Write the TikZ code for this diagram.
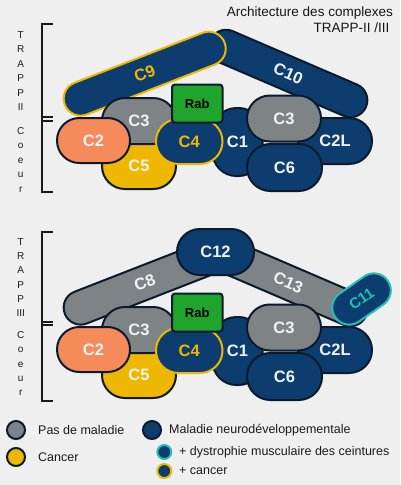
\documentclass[tikz,border=0pt]{standalone}
\usepackage{fontspec}
\setmainfont{Liberation Sans}
\definecolor{navy}{HTML}{0C3D6E}
\definecolor{outl}{HTML}{0B1A2C}
\definecolor{greyc}{HTML}{7E8386}
\definecolor{orangec}{HTML}{F58A5B}
\definecolor{yellowc}{HTML}{EFB800}
\definecolor{greenc}{HTML}{1FA52B}
\definecolor{tealc}{HTML}{22C0B5}
\definecolor{bgc}{HTML}{EFEFEF}
\definecolor{txt}{HTML}{1A1A1A}
\definecolor{wtxt}{HTML}{F2F2F2}
\tikzset{
  blob/.style={draw=outl, line width=2pt, inner sep=0pt, text=wtxt,
    font=\bfseries\fontsize{16.5}{18}\selectfont},
  stad/.style 2 args={minimum width=#1, minimum height=#2},
  bar/.style={blob, minimum width=171.4, minimum height=34, rounded corners=16.9},
  brk/.style={line width=2pt, draw=txt},
  vlet/.style={inner sep=0pt, align=center, text=txt, anchor=north},
  legtxt/.style={anchor=west, inner sep=0pt, text=txt, font=\fontsize{12.5}{14}\selectfont},
  legdot/.style={circle, draw=outl, line width=2pt, inner sep=0pt, minimum size=18},
  smalldot/.style={circle, fill=navy, line width=2pt, inner sep=0pt, minimum size=14},
  ttl/.style={anchor=base east, inner sep=0pt, text=txt!85!black, font=\fontsize{13.5}{15}\selectfont}
}
\newcommand\drawcore[1]{%
  \node[blob, fill=yellowc, minimum width=74, minimum height=46, rounded corners=22.9] (c5#1) at (139,166) {C5};
  \node[blob, fill=greyc, minimum width=74, minimum height=46, rounded corners=22.9] (c3a#1) at (139,121) {C3};
  \node[blob, fill=orangec, minimum width=73, minimum height=45, rounded corners=22.4] (c2#1) at (93.5,140.5) {C2};
  \node[blob, fill=navy, minimum width=50, minimum height=68, rounded corners=24] (c1#1) at (237.5,142) {C1};
  \node[blob, fill=navy, minimum width=74, minimum height=46, rounded corners=22.9] (c2l#1) at (335,141) {C2L};
  \node[blob, fill=greyc, minimum width=74, minimum height=46, rounded corners=22.9] (c3b#1) at (284,118.5) {C3};
  \node[blob, fill=navy, minimum width=75, minimum height=47, rounded corners=23.4] (c6#1) at (284.5,167.5) {C6};
  \node[blob, draw=yellowc, text=yellowc, fill=navy, minimum width=66.5, minimum height=45, rounded corners=22.4] (c4#1) at (189.25,141.5) {C4};
  \node[blob, fill=greenc, text=black, minimum width=50.5, minimum height=38, rounded corners=3,
        font=\bfseries\fontsize{13}{15}\selectfont] (rab#1) at (197.25,103.5) {Rab};
}
\begin{document}
\begin{tikzpicture}[x=1pt,y=-1pt]
\fill[bgc] (0,0) rectangle (400,485);
\useasboundingbox (0,0) rectangle (400,485);

% title
\node[ttl] (title1) at (393,16.3) {Architecture des complexes};
\node[ttl] (title2) at (389.5,32) {TRAPP-II /III};

% ---------- TRAPP II ----------
\node[vlet, font=\fontsize{10}{14.5}\selectfont] (lblII) at (20.7,31.4) {T\\R\\A\\P\\P\\II};
\node[vlet, font=\fontsize{10}{14.4}\selectfont] (lblcoeurA) at (20.7,127.4) {C\\o\\e\\u\\r};
\draw[brk] (52.7,24.3) -- (42.3,24.3) -- (42.3,191.7) -- (52.7,191.7);
\draw[brk] (40.5,117.3) -- (52.7,117.3);
\draw[brk] (40.5,120.7) -- (52.7,120.7);

\node[bar, fill=navy, minimum width=169.3, rotate=-23.25] (c10) at (288.2,73.5) {C10};
\node[bar, fill=navy, draw=yellowc, text=yellowc, rotate=21.3] (c9) at (144.7,73.65) {C9};
\drawcore{A}

% ---------- TRAPP III ----------
\node[vlet, font=\fontsize{10}{14.2}\selectfont] (lblIII) at (20.7,238.4) {T\\R\\A\\P\\P\\III};
\node[vlet, font=\fontsize{10}{14.3}\selectfont] (lblcoeurB) at (20.7,331.4) {C\\o\\e\\u\\r};
\draw[brk] (52.7,231.7) -- (42.3,231.7) -- (42.3,401) -- (52.7,401);
\draw[brk] (40.5,321.7) -- (52.7,321.7);
\draw[brk] (40.5,325) -- (52.7,325);

\node[bar, fill=greyc, minimum width=169.3, rotate=-23.25] (c13) at (288.2,282.5) {C13};
\node[bar, fill=greyc, rotate=21.3] (c8) at (144.7,282.65) {C8};
\node[blob, fill=navy, minimum width=77, minimum height=46, rounded corners=22.9] (c12) at (215.5,252) {C12};
\node[blob, fill=navy, draw=tealc, text=tealc, minimum width=64, minimum height=34, rounded corners=16.9,
      rotate=35, font=\bfseries\fontsize{15}{17}\selectfont] (c11) at (361.5,299) {C11};
\begin{scope}[yshift=-209pt]
\drawcore{B}
\end{scope}

% ---------- legend ----------
\node[legdot, fill=greyc] (lgA) at (16,430) {};
\node[legtxt] (ltA) at (38,430) {Pas de maladie};
\node[legdot, fill=yellowc] (lgB) at (16,457) {};
\node[legtxt] (ltB) at (38,457) {Cancer};
\node[legdot, fill=navy] (lgC) at (152,430) {};
\node[legtxt] (ltC) at (169,430) {Maladie neurodéveloppementale};
\node[smalldot, draw=tealc] (lgD) at (164.3,452) {};
\node[legtxt] (ltD) at (179,452) {+ dystrophie musculaire des ceintures};
\node[smalldot, draw=yellowc] (lgE) at (164.3,471) {};
\node[legtxt] (ltE) at (179,471) {+ cancer};
\end{tikzpicture}
\end{document}
